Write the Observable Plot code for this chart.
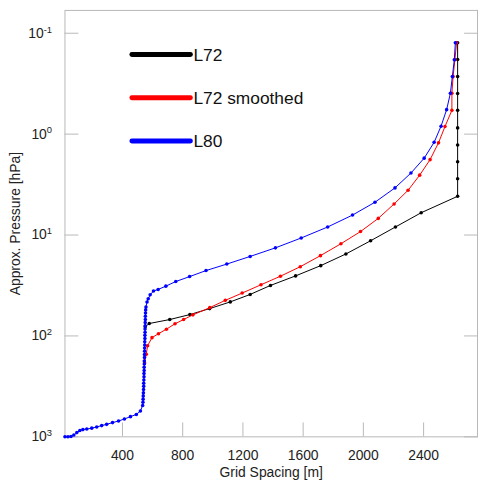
<!DOCTYPE html>
<html><head><meta charset="utf-8">
<script src="https://cdn.jsdelivr.net/npm/d3@7"></script>
<script src="https://cdn.jsdelivr.net/npm/@observablehq/plot@0.6"></script>
<style>html,body{margin:0;padding:0;overflow:hidden;background:#fff;width:478px;height:484px}</style>
</head><body><div id="chart"></div>
<script>
// ---- data (grid spacing in m, approx pressure in hPa) ----
const seriesNames = ["L72", "L72 smoothed", "L80"];
const seriesColors = ["#000000", "#ff0000", "#0000ff"];

const l72Spacing = [551, 578, 714, 848, 979, 1116, 1248, 1383, 1550, 1717, 1884, 2048, 2213, 2384,
  2626, 2626, 2626, 2626, 2626, 2626, 2626, 2626, 2626, 2626];
const l72Pressure = [81, 75.3, 68.8, 61.4, 53.6, 46.0, 38.8, 31.6, 25.4, 20.1, 15.4, 11.4, 8.32, 6.01,
  4.13, 2.77, 1.88, 1.28, 0.867, 0.581, 0.395, 0.269, 0.182, 0.124];

const l72sSpacing = [547, 558, 567, 596, 639, 692, 749, 806, 868, 980, 1083, 1195, 1320, 1449, 1581, 1715,
  1851, 1981, 2099, 2204, 2297, 2374, 2443, 2499, 2542, 2588, 2588, 2596, 2608, 2619];
const l72sPressure = [185, 152, 125, 104, 95.1, 85.7, 75.8, 68.8, 61.8, 52.4, 44.4, 37.6, 31.1, 25.6, 20.6, 16.0,
  12.2, 9.24, 6.84, 4.92, 3.60, 2.55, 1.79, 1.22, 0.840, 0.581, 0.393, 0.269, 0.183, 0.124];

const l80Spacing = [18, 38, 58, 77, 97, 117, 137, 163, 196, 229, 262, 295, 334, 374, 413, 453, 492, 519, 534,
  536, 537, 538, 539, 540, 541, 541, 542, 543, 543, 544, 544, 545, 545, 546, 546, 547, 547, 548, 548,
  549, 549, 550, 550, 551, 551, 552, 552, 553, 554,
  556, 563, 571, 584, 606, 637, 688, 754, 846, 955, 1093, 1248, 1416, 1587, 1763, 1928, 2077, 2210,
  2316, 2404, 2470, 2516, 2553, 2578, 2591, 2604, 2611];
const l80Pressure = [1000, 998, 993, 960, 908, 867, 848, 838, 820, 798, 774, 752, 723, 697, 665, 631, 600, 555, 489,
  455, 423, 393, 366, 340, 316, 294, 273, 254, 236, 220, 204, 190, 177, 164, 153, 142, 132, 123, 114,
  106, 98.7, 91.8, 85.3, 79.4, 73.8, 68.6, 63.8, 59.3, 55.2,
  51.6, 46.1, 42.8, 39.1, 35.9, 34.6, 32.1, 28.9, 25.8, 22.5, 19.4, 16.3, 13.4, 10.7, 8.32, 6.34, 4.73, 3.41,
  2.43, 1.73, 1.205, 0.834, 0.572, 0.393, 0.269, 0.183, 0.124];

const xTicks = [400, 800, 1200, 1600, 2000, 2400];
const yTicks = [0.1, 1, 10, 100, 1000];
const xLabel = "Grid Spacing [m]";
const yLabel = "Approx. Pressure [hPa]";

// ---- build tables ----
const toRows = (xs, ps) => xs.map((x, i) => ({x, p: ps[i]}));
const series = [
  toRows(l72Spacing, l72Pressure),
  toRows(l72sSpacing, l72sPressure),
  toRows(l80Spacing, l80Pressure)
];

const font = "'Liberation Sans', Arial, Helvetica, sans-serif";
const gray = "#b8b8b8";

const seriesMarks = series.flatMap((rows, i) => [
  Plot.line(rows, {x: "x", y: "p", stroke: seriesColors[i], strokeWidth: 1}),
  Plot.dot(rows, {x: "x", y: "p", fill: seriesColors[i], r: 1.8})
]);

const chart = Plot.plot({
  width: 482, height: 484,
  marginLeft: 65, marginRight: 1, marginTop: 10, marginBottom: 44,
  style: {fontFamily: font, fontSize: "14px", color: "#222", background: "#fff", overflow: "visible"},
  x: {domain: [18, 2758]},
  y: {type: "log", domain: [0.0594, 1000], reverse: true},
  marks: [
    Plot.frame({stroke: gray}),
    Plot.axisX(xTicks, {anchor: "bottom", tickSize: 14, dy: -14, tickPadding: 13, stroke: gray, fill: "#222", fontSize: 14,
      tickFormat: d => String(d), label: null}),
    Plot.axisY(yTicks, {anchor: "left", tickSize: 14, dx: 14, tickPadding: 13, stroke: gray, fill: "#222", fontSize: 14,
      tickFormat: d => String(Math.round(Math.log10(d))), label: null}),
    Plot.axisY(yTicks, {anchor: "right", tickSize: 14, dx: -14, stroke: gray, tickFormat: () => "", label: null}),
    Plot.text([xLabel], {text: d => d, frameAnchor: "bottom", lineAnchor: "middle", textAnchor: "middle", dy: 36, fontSize: 14, fill: "#222"}),
    Plot.text([yLabel], {text: d => d, frameAnchor: "left", lineAnchor: "middle", textAnchor: "middle", dx: -50, rotate: -90, fontSize: 14, fill: "#222"}),
    ...seriesMarks
  ]
});

document.getElementById("chart").appendChild(chart);

// superscript exponents on the y tick labels
d3.select(chart).selectAll('g[aria-label="y-axis tick label"] text').each(function () {
  const e = this.textContent;
  if (!e) return;
  this.textContent = "10";
  d3.select(this).append("tspan").attr("dy", "-0.55em").attr("font-size", "9.5px").text(e);
});

// legend inside the plot area
const lg = d3.select(chart).append("g").attr("font-family", font).attr("font-size", 17.5).attr("text-anchor", "start");
seriesNames.forEach((name, i) => {
  const y = 55 + 43.6 * i;
  lg.append("line").attr("x1", 133).attr("x2", 192).attr("y1", y).attr("y2", y)
    .attr("stroke", seriesColors[i]).attr("stroke-width", 5).attr("stroke-linecap", "round");
  lg.append("text").attr("x", 195).attr("y", y).attr("dy", "0.36em").attr("fill", "#111").text(name);
});
</script>
</body></html>
